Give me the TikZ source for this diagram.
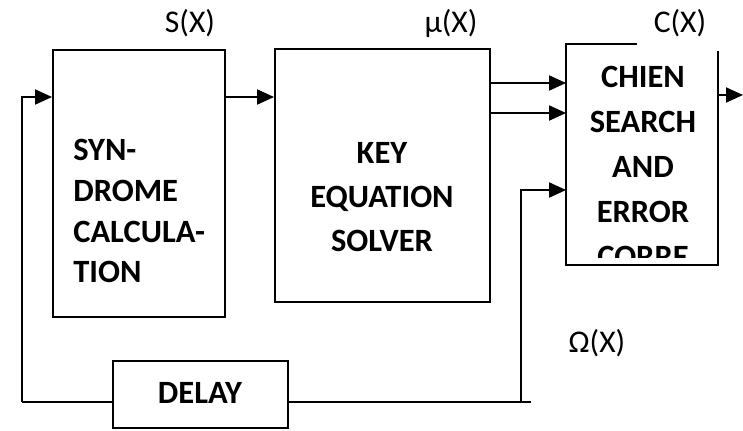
\documentclass[tikz,border=0pt]{standalone}
\usepackage{fontspec}
\setmainfont{Carlito}
\usetikzlibrary{arrows.meta}

\begin{document}
\begin{tikzpicture}[
  x=0.02cm, y=-0.02cm,
  line/.style = {line width=1.1pt},
  arr/.style = {line, -{Triangle[length=0.34cm, width=0.3cm]}},
  block/.style = {
    draw, rectangle, line width=1.1pt,
    inner sep=0pt
  },
  txt/.style = {
    font=\bfseries\fontsize{18.5}{25}\selectfont,
    inner sep=0pt
  },
  sig/.style = {
    font=\fontsize{18}{21}\selectfont,
    inner sep=0pt
  }
]
\useasboundingbox (0,0) rectangle (743,430);

% blocks
\node[block, minimum width=3.44cm, minimum height=5.34cm] (syn) at (139,183.5) {};
\node[block, minimum width=4.3cm, minimum height=5.06cm] (kes) at (382.5,175.5) {};
\node[block, draw=none, minimum width=3cm, minimum height=4.38cm] (chien) at (642,154.5) {};
\node[block, fill=white, minimum width=3.5cm, minimum height=1.34cm] (delay) at (200.5,394.5) {};

% open outline of the chien block
\draw[line] ([xshift=1.42cm]chien.north west) -- (chien.north west)
  -- (chien.south west) -- (chien.south east) -- ([yshift=-0.14cm]chien.north east);

% texts
\node[txt, align=left, anchor=west, font=\bfseries\fontsize{18.5}{23.3}\selectfont] (synText) at (73,211) {SYN-\\DROME\\CALCULA-\\TION};
\node[txt, align=center] (kesText) at (382,197) {KEY\\EQUATION\\SOLVER};
\begin{scope}
  \clip (567,45) rectangle (717,257);
  \node[txt, align=center, font=\bfseries\fontsize{18.5}{25.6}\selectfont] (chienText) at (643,167) {CHIEN\\SEARCH\\AND\\ERROR\\CORRE};
\end{scope}
\node[txt] (delayText) at (200,392.5) {DELAY};

% signal names
\node[sig] (sLbl) at (190,23) {S(X)};
\node[sig] (muLbl) at (451,23) {µ(X)};
\node[sig] (cLbl) at (680,23) {C(X)};
\node[sig] (omLbl) at (597,343) {Ω(X)};

% rows and corners
\coordinate (sRow) at (0,97);
\coordinate (mu1) at (0,83);
\coordinate (mu2) at (0,113);
\coordinate (omRow) at (0,190);
\coordinate (outRow) at (0,95);
\coordinate (fbL) at (22,402);
\coordinate (inTop) at (22,97);
\coordinate (tap) at (521,402);
\coordinate (tapEnd) at (531,402);
\coordinate (outEnd) at (743,95);

% connectors
\draw[arr] (fbL) -- (inTop) -- (syn.west |- sRow);
\draw[arr] (syn.east |- sRow) -- (kes.west |- sRow);
\draw[arr] (kes.east |- mu1) -- (chien.west |- mu1);
\draw[arr] (kes.east |- mu2) -- (chien.west |- mu2);
\draw[arr] (tap) -- (tap |- omRow) -- (chien.west |- omRow);
\draw[arr] (chien.east |- outRow) -- (outEnd);
\draw[line] (fbL) -- (delay.west |- fbL);
\draw[line] (delay.east |- fbL) -- (tapEnd);

\end{tikzpicture}
\end{document}
